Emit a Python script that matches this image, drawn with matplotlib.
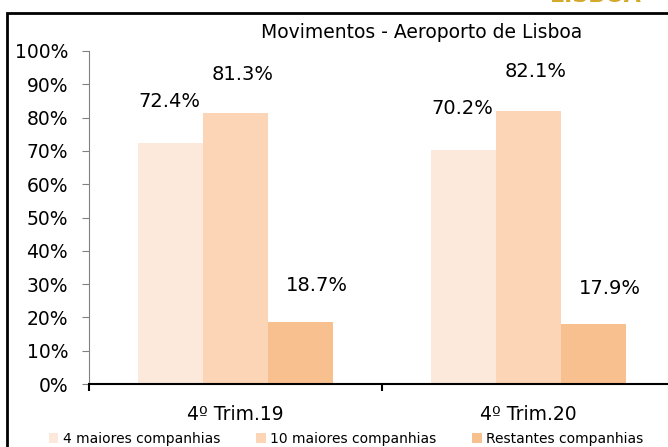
import matplotlib
matplotlib.use('Agg')
import matplotlib.pyplot as plt
from matplotlib.patches import Rectangle
import numpy as np

categories = ['4º Trim.19', '4º Trim.20']
series_names = ['4 maiores companhias', '10 maiores companhias', 'Restantes companhias']
top4 = [72.4, 70.2]
top10 = [81.3, 82.1]
others = [18.7, 17.9]
colors = ['#FCE9DB', '#FBD5B5', '#F9C08F']
# label offsets in points (dx, dy) for each series
label_offsets = [(-1, 30), (5, 28), (12, 26)]

plt.rcParams['font.family'] = ['DejaVu Sans']

fig = plt.figure(figsize=(6.68, 4.47), dpi=100)
ax = fig.add_axes([89 / 668, 1 - 384 / 447, 586 / 668, 333 / 447])

x = np.arange(len(categories)) + 0.5
w = 0.222
for i, vals in enumerate([top4, top10, others]):
    pos = x + (i - 1) * w
    ax.bar(pos, vals, width=w, color=colors[i], label=series_names[i], zorder=2)
    for p, v in zip(pos, vals):
        ax.annotate(f'{v:.1f}%', (p, v), xytext=label_offsets[i], textcoords='offset points',
                    ha='center', va='center', fontsize=14)

ax.set_xlim(0, 2)
ax.set_ylim(0, 100)
ax.set_yticks(np.arange(0, 101, 10))
ax.set_yticklabels([f'{t}%' for t in range(0, 101, 10)], fontsize=13.5)
ax.tick_params(axis='y', direction='out', length=5, color='#808080', pad=10)
ax.set_xticks(x)
ax.set_xticklabels(categories, fontsize=13.5)
ax.set_xticks([0, 1, 2], minor=True)
ax.tick_params(axis='x', which='major', length=0, pad=15)
ax.tick_params(axis='x', which='minor', direction='out', length=5, width=1.5, color='black')

for s in ['top', 'right']:
    ax.spines[s].set_visible(False)
ax.spines['left'].set_color('#808080')
ax.spines['bottom'].set_color('black')
ax.spines['bottom'].set_linewidth(1.5)
ax.spines['bottom'].set_zorder(3)

fig.text(422 / 668, 1 - 32 / 447, 'Movimentos - Aeroporto de Lisboa', ha='center', va='center',
         fontsize=13.5)

fig.legend(loc='center', bbox_to_anchor=(0.518, 1 - 439 / 447), ncol=3, frameon=False,
           fontsize=10, handlelength=0.7, handleheight=0.7, handletextpad=0.3, columnspacing=2.6)

fig.patches.append(Rectangle((7 / 668, -0.1), 1.2, 0.1 + 1 - 13 / 447, transform=fig.transFigure,
                             fill=False, edgecolor='black', linewidth=2))
fig.text(595 / 668, 1 - 6 / 447, 'LISBOA', ha='center', va='bottom', fontsize=16,
         color='#D4A82A', fontweight='bold')

fig.savefig('out.png', dpi=100)
